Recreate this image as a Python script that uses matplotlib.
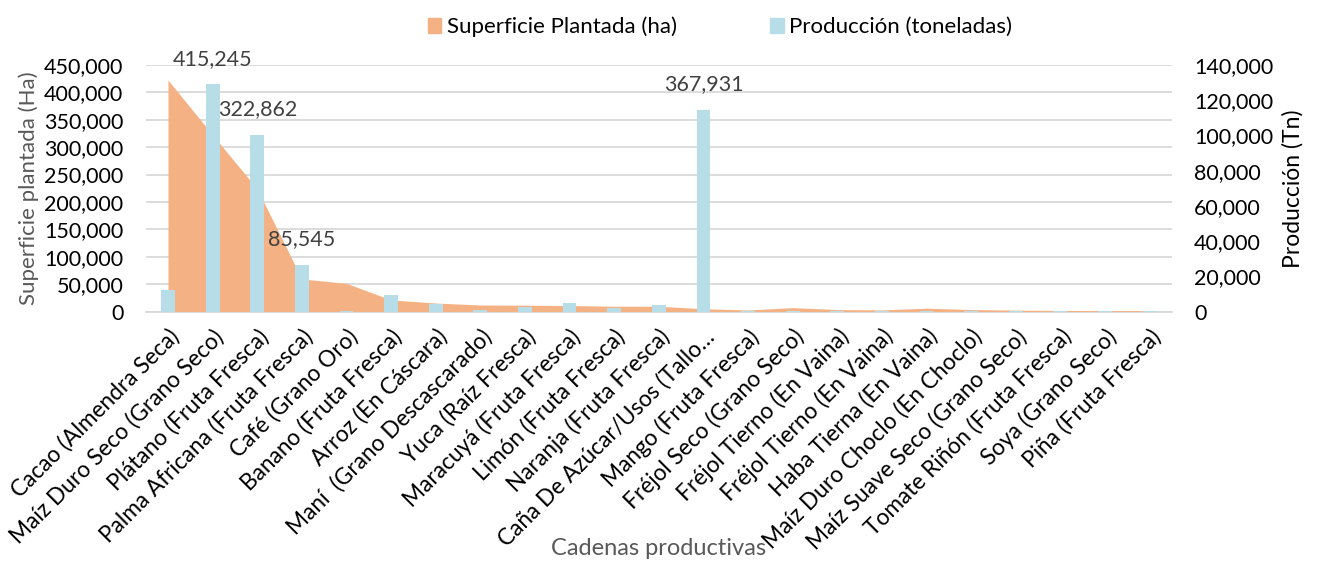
import matplotlib.pyplot as plt
from matplotlib.patches import Patch
from matplotlib.ticker import FuncFormatter, MultipleLocator
import numpy as np

plt.rcParams['font.family'] = ['Lato', 'DejaVu Sans']

cadenas = ['Cacao (Almendra Seca)', 'Maíz Duro Seco (Grano Seco)', 'Plátano (Fruta Fresca)',
           'Palma Africana (Fruta Fresca)', 'Café (Grano Oro)', 'Banano (Fruta Fresca)',
           'Arroz (En Cáscara)', 'Maní  (Grano Descascarado)', 'Yuca (Raíz Fresca)',
           'Maracuyá (Fruta Fresca)', 'Limón (Fruta Fresca)', 'Naranja (Fruta Fresca)',
           'Caña De Azúcar/Usos (Tallo…', 'Mango (Fruta Fresca)', 'Fréjol Seco (Grano Seco)',
           'Fréjol Tierno (En Vaina)', 'Fréjol Tierno (En Vaina)', 'Haba Tierna (En Vaina)',
           'Maíz Duro Choclo (En Choclo)', 'Maíz Suave Seco (Grano Seco)',
           'Tomate Riñón (Fruta Fresca)', 'Soya (Grano Seco)', 'Piña (Fruta Fresca)']

# superficie plantada (ha), eje derecho
superficie = [131500, 100300, 69600, 18500, 16000, 6600, 4800, 3700, 3600, 3400, 3000, 3000,
              1600, 850, 2200, 1100, 900, 1900, 1100, 800, 600, 500, 500]

# produccion (t), eje izquierdo
produccion = [39000, 415245, 322862, 85545, 1000, 30000, 13700, 2000, 8000, 15000, 6000, 11000,
              367931, 300, 300, 200, 200, 500, 200, 200, 100, 100, 100]

etiquetas = {1: 415245, 2: 322862, 3: 85545, 12: 367931}

naranja = '#F4B183'
celeste = '#B7DEE8'

x = np.arange(len(cadenas))
miles = FuncFormatter(lambda v, p: '{:,.0f}'.format(v))

fig = plt.figure(figsize=(13.22, 5.61), dpi=100)
ax = fig.add_axes([0.1102, 0.4447, 0.7763, 0.4394])
ax2 = ax.twinx()   # area
ax3 = ax.twinx()   # barras

ax.set_xlim(-0.5, len(cadenas) - 0.5)
ax.set_ylim(0, 450000)
ax.yaxis.set_major_locator(MultipleLocator(50000))
ax.yaxis.set_major_formatter(miles)
ax.grid(axis='y', color='#D9D9D9', linewidth=1.3)
ax.set_axisbelow(True)

ax2.fill_between(x, superficie, color=naranja, linewidth=0)
ax2.set_ylim(0, 140000)
ax2.yaxis.set_major_locator(MultipleLocator(20000))
ax2.yaxis.set_major_formatter(miles)

ax3.bar(x, produccion, width=0.31, color=celeste)
ax3.set_ylim(0, 450000)
ax3.set_yticks([])
for i, v in etiquetas.items():
    ax3.annotate('{:,}'.format(v), (x[i], v), xytext=(0, 14), textcoords='offset points',
                 ha='center', va='baseline', fontsize=15.5, color='#404040')

for a in (ax, ax2, ax3):
    for s in a.spines.values():
        s.set_visible(False)
ax.spines['bottom'].set_visible(True)
ax.spines['bottom'].set_color('#D9D9D9')
ax.spines['bottom'].set_linewidth(1.3)

ax.tick_params(axis='y', length=0, pad=16, labelsize=15.5, labelcolor='#000000')
ax2.tick_params(axis='y', length=0, pad=16, labelsize=15.5, labelcolor='#000000')
ax.tick_params(axis='x', length=0, pad=10)
ax.set_xticks(x)
ax.set_xticklabels(cadenas, rotation=45, ha='right', rotation_mode='anchor',
                   fontsize=16.3, color='#000000')

ax.set_ylabel('Superficie plantada (Ha)', fontsize=16, color='#595959', labelpad=4)
ax2.set_ylabel('Producción (Tn)', fontsize=16.5, color='#000000', labelpad=6)
ax.set_xlabel('Cadenas productivas', fontsize=17, color='#595959')
ax.xaxis.set_label_coords(0.5, -0.92)

handles = [Patch(color=naranja, label='Superficie Plantada (ha)'),
           Patch(color=celeste, label='Producción (toneladas)')]
fig.legend(handles=handles, loc='center', bbox_to_anchor=(720 / 1322, 1 - 27 / 561), ncol=2,
           frameon=False, fontsize=16, handlelength=0.6, handleheight=0.6,
           handletextpad=0.25, columnspacing=4.2)

fig.savefig('out.png', dpi=100)
